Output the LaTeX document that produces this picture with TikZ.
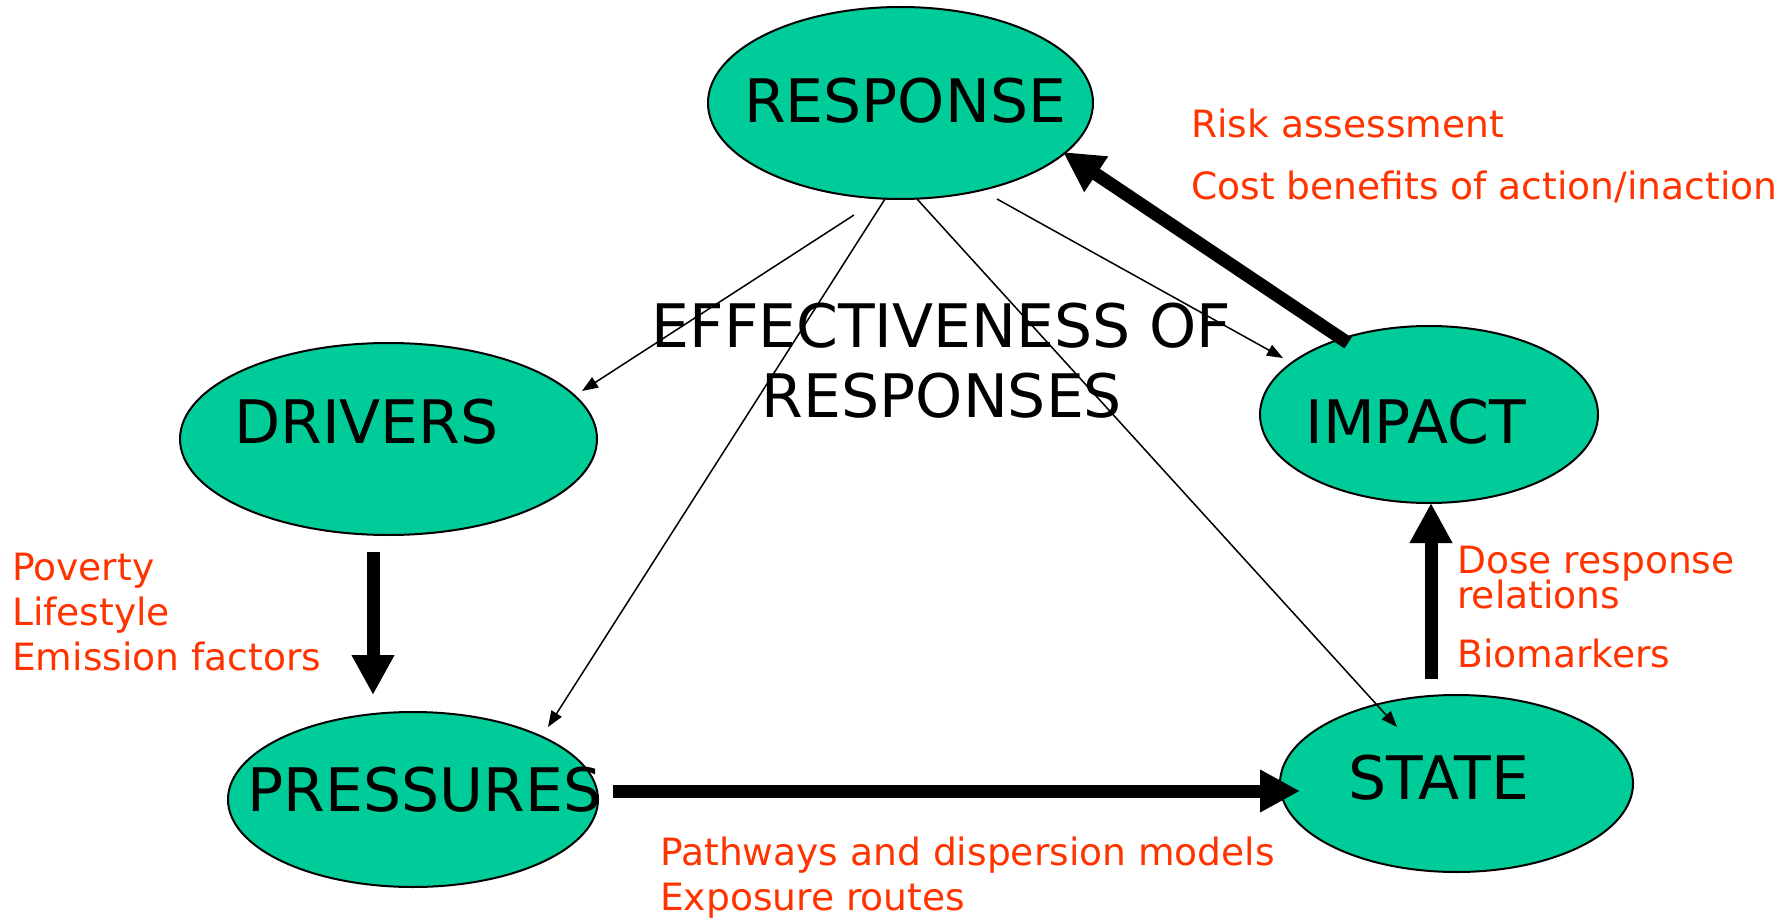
\documentclass[tikz,border=0pt]{standalone}
\usepackage{fontspec}
\setmainfont{DejaVu Sans}
\usetikzlibrary{shapes.geometric,arrows.meta}
\definecolor{nodegreen}{HTML}{00CC99}
\definecolor{notered}{HTML}{FF3300}
\tikzset{
  ell/.style={ellipse, draw=black, line width=2pt, fill=nodegreen, inner sep=0pt},
  bigtext/.style={anchor=base, inner sep=0pt, font=\fontsize{60}{72}\selectfont},
  note/.style={anchor=base west, inner sep=0pt, text=notered, font=\fontsize{37.6}{45}\selectfont},
  thin arrow/.style={line width=1.5pt, -{Triangle[length=16pt,width=12pt]}},
  thick arrow/.style={line width=13pt, -{Triangle[length=40pt,width=40pt]}},
}
\begin{document}
\begin{tikzpicture}[x=1pt,y=-1pt]
\useasboundingbox (0,0) rectangle (1789,920);

% ellipses
\node[ell, minimum width=385pt, minimum height=192pt] (resp)  at (900.5,103) {};
\node[ell, minimum width=417pt, minimum height=192pt] (drv)   at (388.5,439) {};
\node[ell, minimum width=338pt, minimum height=177pt] (imp)   at (1429,414.5) {};
\node[ell, minimum width=370pt, minimum height=175pt] (pres)  at (413,799.5) {};
\node[ell, minimum width=353pt, minimum height=177pt] (state) at (1456.5,783.5) {};

% ellipse labels
\node[bigtext] (respt)  at (905,123) {RESPONSE};
\node[bigtext] (drvt)   at (366.5,443) {DRIVERS};
\node[bigtext] (impt)   at (1415.5,443) {IMPACT};
\node[bigtext] (prest)  at (424.5,811) {PRESSURES};
\node[bigtext] (statet) at (1438.5,799) {STATE};
\node[bigtext] (eff1)   at (941.5,347) {EFFECTIVENESS OF};
\node[bigtext] (eff2)   at (942,417) {RESPONSES};

% red notes
\node[note] (risk) at (1191,138) {Risk assessment};
\node[note] (cost) at (1191,200) {Cost benefits of action/inaction};
\node[note] (pov)  at (12,580) {Poverty};
\node[note] (life) at (12,625) {Lifestyle};
\node[note] (emis) at (12,670) {Emission factors};
\node[note] (dose) at (1457,573) {Dose response};
\node[note] (rel)  at (1457,608) {relations};
\node[note] (bio)  at (1457,667) {Biomarkers};
\node[note] (path) at (660,865) {Pathways and dispersion models};
\node[note] (expo) at (660,910) {Exposure routes};

% connector end points
\coordinate (r1) at (854,215);
\coordinate (r2) at (885,199);
\coordinate (r3) at (917,199);
\coordinate (r4) at (997,199);
\coordinate (d1) at (582,391);
\coordinate (p1) at (548,727);
\coordinate (s1) at (1397,727);
\coordinate (i1) at (1283,358);
\coordinate (iout) at (1348,343);
\coordinate (rin)  at (1063,152);
\coordinate (dout) at (373,552);
\coordinate (pin)  at (373,695);
\coordinate (pout) at (613,791);
\coordinate (sin)  at (1300,791);
\coordinate (sout) at (1431,679);
\coordinate (iin)  at (1431,503);

% thin arrows from RESPONSE
\draw[thin arrow] (r1) -- (d1);
\draw[thin arrow] (r2) -- (p1);
\draw[thin arrow] (r3) -- (s1);
\draw[thin arrow] (r4) -- (i1);

% thick arrows
\draw[thick arrow] (iout) -- (rin);
\draw[thick arrow] (dout) -- (pin);
\draw[thick arrow] (pout) -- (sin);
\draw[thick arrow] (sout) -- (iin);
\end{tikzpicture}
\end{document}
